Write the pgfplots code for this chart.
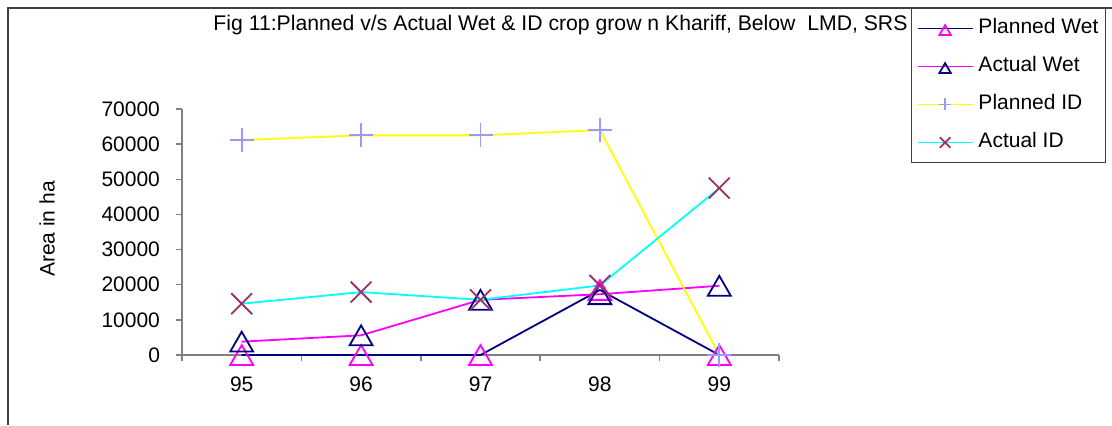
\documentclass[border=0pt]{standalone}
\usepackage{fontspec}
\setmainfont{Liberation Sans}
\usepackage{pgfplots}
\pgfplotsset{compat=1.18}
\definecolor{navyc}{RGB}{0,0,128}
\definecolor{magc}{RGB}{255,0,255}
\definecolor{yelc}{RGB}{255,255,0}
\definecolor{cyac}{RGB}{0,255,255}
\definecolor{lavc}{RGB}{153,153,255}
\definecolor{plumc}{RGB}{153,51,102}
\definecolor{axc}{RGB}{128,128,128}
\definecolor{framec}{RGB}{64,64,64}
\newcommand{\cf}{\fontsize{10.5}{12}\selectfont}
\begin{document}
\begin{tikzpicture}
\path[use as bounding box] (0,0) rectangle (556pt,212.5pt);
\draw[framec, line width=0.75pt] (4pt,0) -- (4pt,208.5pt) -- (556pt,208.5pt);
\begin{axis}[
  at={(91pt,35pt)}, anchor=south west,
  scale only axis, width=298.5pt, height=123pt,
  xmin=-0.5, xmax=4.5, ymin=0, ymax=70000,
  clip=false,
  axis x line*=bottom, axis y line*=left,
  axis line style={axc, line width=0.75pt},
  xtick={0,1,2,3,4}, xticklabels={95,96,97,98,99},
  minor xtick={-0.5,0.5,1.5,2.5,3.5,4.5},
  ytick={0,10000,20000,30000,40000,50000,60000,70000},
  scaled y ticks=false,
  /pgf/number format/assume math mode=true,
  /pgf/number format/set thousands separator={},
  tick align=outside,
  major tick length=3pt, minor tick length=3pt,
  major x tick style={draw=none},
  minor x tick style={axc, line width=0.75pt},
  ytick style={axc, line width=0.75pt},
  ticklabel style={font=\cf},
  yticklabel style={xshift=-4.5pt},
  xticklabel style={yshift=-4.5pt},
  title={Fig 11:Planned v/s Actual Wet \& ID crop grow n Khariff, Below\ \ LMD, SRS},
  title style={at={(axis description cs:0.634,1.272)}, anchor=base, font=\fontsize{10.6}{12}\selectfont, inner sep=0pt},
  ylabel={Area in ha},
  ylabel style={at={(axis description cs:-0.226,0.512)}, anchor=center, font=\cf},
  legend cell align=left,
  legend style={at={(axis description cs:1.221,1.411)}, anchor=north west,
    draw=framec, line width=0.75pt, font=\cf,
    inner xsep=2.5pt, inner ysep=4pt, row sep=7.2pt, column sep=1.5pt,
    nodes={inner sep=1pt, text height=7.6pt, text depth=2.2pt}},
  legend image code/.code={\draw[mark repeat=2,mark phase=2, every mark/.append style={scale=0.5}] plot coordinates {(0pt,0pt) (13.75pt,0pt) (27.5pt,0pt)};},
]
\addplot[navyc, line width=0.9pt, mark=triangle, mark size=6.6pt,
  mark options={draw=magc, solid, line width=0.9pt, yshift=-1.65pt}]
  coordinates {(0,0) (1,0) (2,0) (3,18500) (4,0)};
\addlegendentry{Planned Wet}
\addplot[magc, line width=0.9pt, mark=triangle, mark size=6.6pt,
  mark options={draw=navyc, solid, line width=0.9pt, yshift=-1.65pt}]
  coordinates {(0,3800) (1,5600) (2,15700) (3,17300) (4,19700)};
\addlegendentry{Actual Wet}
\addplot[yelc, line width=0.9pt, mark=+, mark size=6pt,
  mark options={draw=lavc, solid, line width=0.9pt}]
  coordinates {(0,61200) (1,62500) (2,62500) (3,64000) (4,0)};
\addlegendentry{Planned ID}
\addplot[cyac, line width=0.9pt, mark=x, mark size=7.4pt,
  mark options={draw=plumc, solid, line width=0.9pt}]
  coordinates {(0,14600) (1,17900) (2,15700) (3,19800) (4,47500)};
\addlegendentry{Actual ID}
\end{axis}
\end{tikzpicture}
\end{document}
